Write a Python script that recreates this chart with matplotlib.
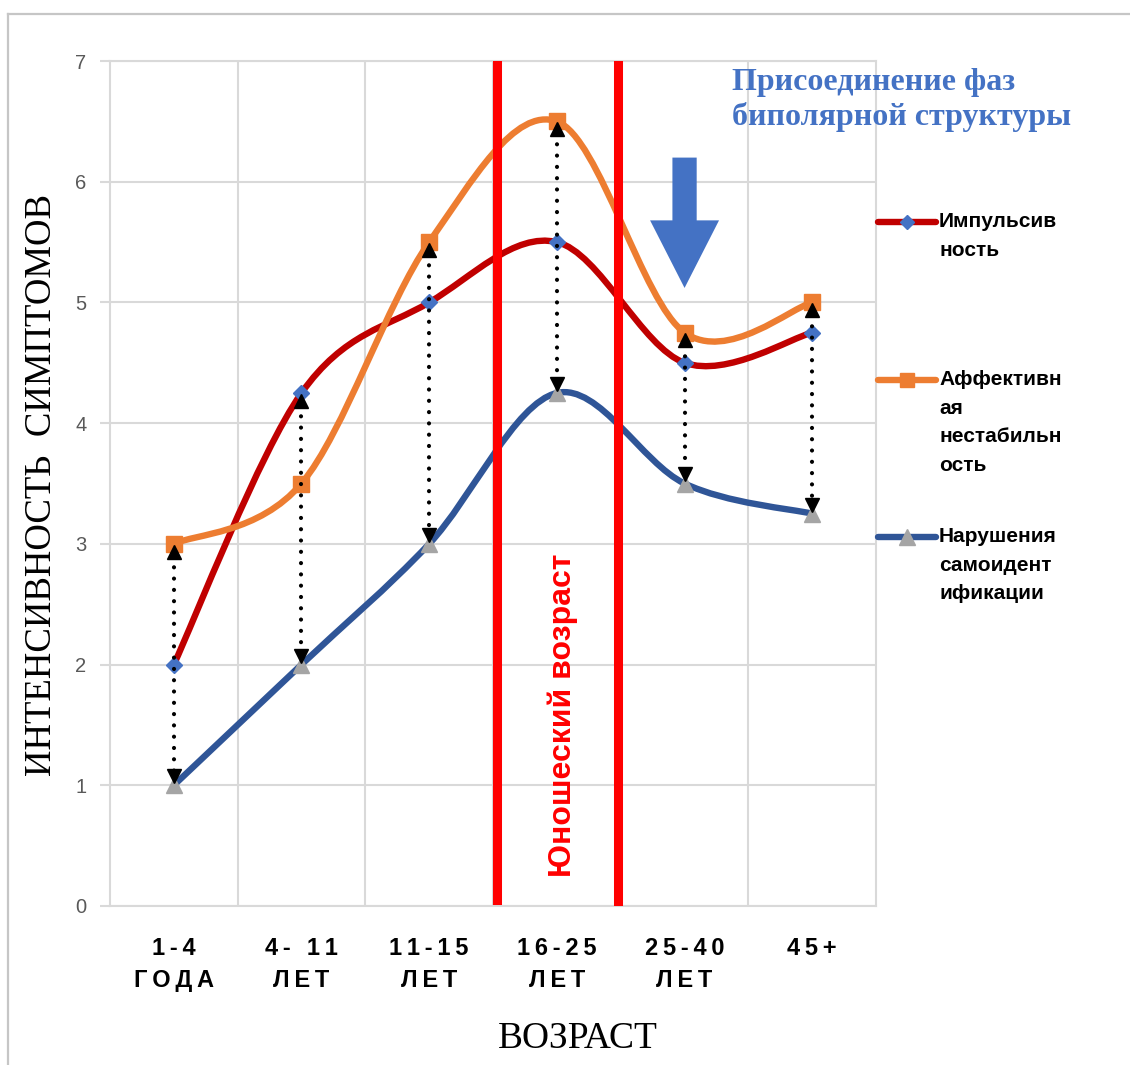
import matplotlib
matplotlib.use('Agg')
import matplotlib.pyplot as plt
from matplotlib.path import Path
from matplotlib.patches import PathPatch, FancyArrow
from matplotlib.lines import Line2D

# Age groups and symptom intensity per series
age_groups = ["1-4\nГОДА", "4- 11\nЛЕТ", "11-15\nЛЕТ", "16-25\nЛЕТ", "25-40\nЛЕТ", "45+"]
impulsivity = [2, 4.25, 5, 5.5, 4.5, 4.75]
affective = [3, 3.5, 5.5, 6.5, 4.75, 5]
identity = [1, 2, 3, 4.25, 3.5, 3.25]

series_names = ["Импульсив\nность", "Аффективн\nая\nнестабильн\nость", "Нарушения\nсамоидент\nификации"]
y_ticks = [0, 1, 2, 3, 4, 5, 6, 7]

# youth age band (between category positions) and arrow position
youth_band = [2.53, 3.48]
arrow_x = 4

line_colors = ['#C00000', '#ED7D31', '#2F5597']
marker_fc = ['#4472C4', '#ED7D31', '#A5A5A5']
markers = ['D', 's', '^']
marker_sizes = [8.5, 11.5, 12]
grid_color = '#D9D9D9'


def smooth_path(xs, ys):
    """Bezier path through the points, Catmull-Rom style tangents"""
    pts = list(zip(xs, ys))
    n = len(pts)
    verts = [pts[0]]
    codes = [Path.MOVETO]
    for i in range(n - 1):
        p0 = pts[max(i - 1, 0)]
        p1 = pts[i]
        p2 = pts[i + 1]
        p3 = pts[min(i + 2, n - 1)]
        c1 = (p1[0] + (p2[0] - p0[0]) / 6, p1[1] + (p2[1] - p0[1]) / 6)
        c2 = (p2[0] - (p3[0] - p1[0]) / 6, p2[1] - (p3[1] - p1[1]) / 6)
        verts += [c1, c2, p2]
        codes += [Path.CURVE4] * 3
    return Path(verts, codes)


def spaced(s):
    # widen letter spacing with thin spaces
    return "\n".join("\u2009".join(line) for line in s.split("\n"))


fig = plt.figure(figsize=(11.3, 10.65), dpi=100)
ax = fig.add_axes([0.0973, 0.1493, 0.678, 0.7934])

xs = list(range(len(age_groups)))
all_series = [impulsivity, affective, identity]

for k, vals in enumerate(all_series):
    patch = PathPatch(smooth_path(xs, vals), fill=False, edgecolor=line_colors[k],
                      linewidth=4.6, capstyle='round', joinstyle='round', zorder=3)
    ax.add_patch(patch)
    ax.plot(xs, vals, linestyle='none', marker=markers[k], markersize=marker_sizes[k],
            markerfacecolor=marker_fc[k], markeredgecolor=marker_fc[k], zorder=4)

# dotted double arrows from the highest value down to the identity value
for i in xs:
    top = max(impulsivity[i], affective[i], identity[i])
    bot = identity[i]
    ax.plot([i, i], [top - 0.1, bot + 0.1], color='black', linewidth=3.0,
            dashes=(0.01, 2.7), dash_capstyle='round', zorder=5)
    ax.plot(i, top - 0.065, marker='^', color='black', markersize=10.5, zorder=6)
    ax.plot(i, bot + 0.075, marker='v', color='black', markersize=10.5, zorder=6)

# youth age band
ax.axvline(youth_band[0], ymin=0.007, ymax=1, color='#FF0000', linewidth=6.5, zorder=7)
ax.axvline(youth_band[1], ymin=0.001, ymax=1, color='#FF0000', linewidth=6.5, zorder=7)
ax.text(sum(youth_band) / 2 + 0.04, 1.58, "Юношеский возраст", rotation=90,
        ha='center', va='center', color='#FF0000', fontsize=23,
        family='Liberation Sans', fontweight='bold', zorder=8)

# big blue arrow
ax.add_patch(FancyArrow(arrow_x, 6.2, 0, -1.08, width=0.19, head_width=0.54,
                        head_length=0.56, length_includes_head=True,
                        color='#4472C4', linewidth=0, zorder=8))

ax.set_xlim(-0.5, len(age_groups) - 0.5)
ax.set_ylim(0, 7)
ax.set_yticks(y_ticks)
ax.set_yticklabels([str(v) for v in y_ticks], fontsize=14.5, color='#595959',
                   family='Liberation Sans')
ax.set_xticks(xs)
ax.set_xticklabels([spaced(s) for s in age_groups], fontsize=17, fontweight='bold',
                   family='Liberation Sans', linespacing=1.5)
ax.set_xticks([x + 0.5 for x in xs[:-1]], minor=True)
ax.tick_params(axis='x', which='both', length=0, pad=22)
ax.tick_params(axis='y', length=7, width=1.5, color=grid_color, pad=10)
ax.grid(True, which='minor', axis='x', color=grid_color, linewidth=1.5)
ax.grid(True, which='major', axis='y', color=grid_color, linewidth=1.5)
ax.set_axisbelow(True)
for sp in ax.spines.values():
    sp.set_color(grid_color)
    sp.set_linewidth(1.5)

# axis titles
fig.text(0.0372, 0.5446, "ИНТЕНСИВНОСТЬ  СИМПТОМОВ", rotation=90, ha='center',
         va='center', fontsize=26.5, family='Liberation Serif')
fig.text(0.5115, 0.016, "ВОЗРАСТ", ha='center', va='baseline', fontsize=27,
         family='Liberation Serif')

# note in the top right corner
fig.text(0.648, 0.936, "Присоединение фаз\nбиполярной структуры", ha='left', va='top',
         fontsize=23, family='Liberation Serif', fontweight='bold', color='#4472C4',
         linespacing=1.2)

# legend drawn by hand
legend_y = [1 - 222 / 1065, 1 - 380 / 1065, 1 - 537 / 1065]
for k, name in enumerate(series_names):
    y = legend_y[k]
    fig.add_artist(Line2D([0.777, 0.828], [y, y], color=line_colors[k], linewidth=4.6,
                          solid_capstyle='round'))
    fig.add_artist(Line2D([0.8025], [y], marker=markers[k], markersize=marker_sizes[k] - 1,
                          markerfacecolor=marker_fc[k], markeredgecolor=marker_fc[k]))
    fig.text(0.831, y + 0.0095, name, ha='left', va='top', fontsize=15,
             fontweight='bold', family='Liberation Sans', linespacing=1.65)

# chart area border (top and left edges)
fig.add_artist(Line2D([0.0075, 1.0], [1 - 13.5 / 1065, 1 - 13.5 / 1065], color='#C6C6C6',
                      linewidth=1.6))
fig.add_artist(Line2D([0.0075, 0.0075], [0, 1 - 13.5 / 1065], color='#C6C6C6',
                      linewidth=1.6))

fig.savefig('out.png', dpi=100, facecolor='white')
